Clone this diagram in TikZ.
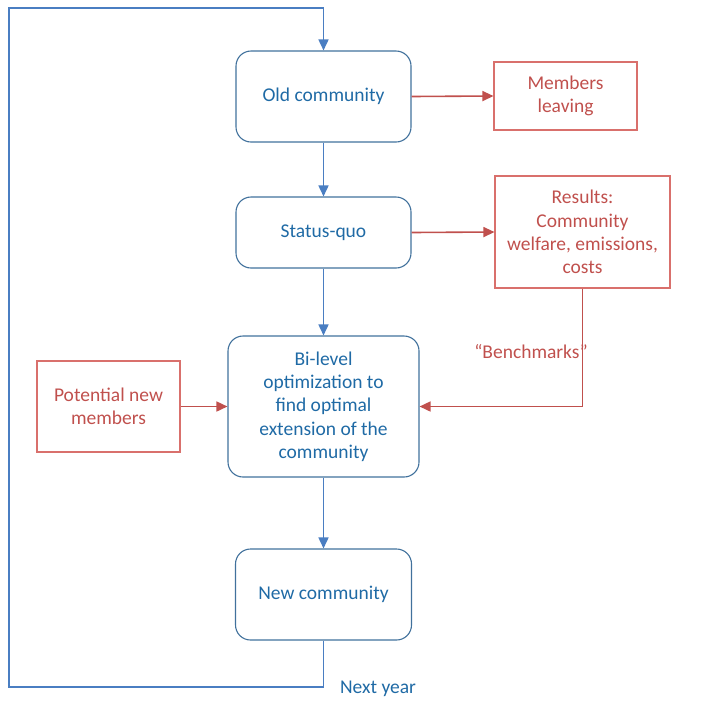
\documentclass[tikz,border=0pt]{standalone}
\usepackage{fontspec}
\setmainfont{Carlito}
\usetikzlibrary{arrows.meta}
\definecolor{bline}{HTML}{4A7EC2}
\definecolor{bbox}{HTML}{41719C}
\definecolor{btext}{HTML}{1F6AA5}
\definecolor{rline}{HTML}{C0504D}
\definecolor{rbox}{HTML}{D9706C}
\definecolor{rtext}{HTML}{C0504D}
\tikzset{
  x=1pt, y=-1pt,
  bluebox/.style={draw=bbox, line width=1.1pt, rounded corners=15pt, text=btext, align=center, inner sep=0pt, font=\fontsize{19.5}{23.3}\selectfont},
  redbox/.style={draw=rbox, line width=1.1pt, text=rtext, align=center, inner sep=0pt, font=\fontsize{19.5}{23.3}\selectfont},
  barrow/.style={draw=bline, line width=1.6pt, -{Triangle[length=11pt,width=10pt]}},
  rarrow/.style={draw=rline, line width=1.6pt, -{Triangle[length=11pt,width=10pt]}},
  lbl/.style={font=\fontsize{19.5}{23.3}\selectfont, inner sep=0pt}
}
\begin{document}
\begin{tikzpicture}
\useasboundingbox (0,0) rectangle (708,702);
% blue boxes
\node[bluebox, minimum width=175pt, minimum height=91pt] (old) at (323.5,96.5) {Old community};
\node[bluebox, minimum width=175pt, minimum height=71pt] (sq) at (323.5,232.5) {Status-quo};
\node[bluebox, minimum width=191pt, minimum height=141pt] (bi) at (323.5,406.5) {Bi-level\\optimization to\\find optimal\\extension of the\\community};
\node[bluebox, minimum width=176pt, minimum height=91pt] (new) at (323.5,594.5) {New community};
% red boxes
\node[redbox, minimum width=143pt, minimum height=68pt] (leave) at (565.5,96) {Members\\leaving};
\node[redbox, minimum width=175pt, minimum height=112pt] (res) at (582.5,232) {Results:\\Community\\welfare, emissions,\\costs};
\node[redbox, minimum width=143pt, minimum height=91pt] (pot) at (108.5,406.5) {Potential new\\members};
% labels
\node[lbl, text=rtext] (bench) at (531,352) {“Benchmarks”};
\node[lbl, text=btext] (ny) at (378,689) {Next year};
% coordinates
\coordinate (c1) at (323.5,687);
\coordinate (c2) at (9,687);
\coordinate (c3) at (9,8);
\coordinate (c4) at (323.5,8);
\coordinate (r1) at (582.5,406.5);
% blue arrows
\draw[barrow] (old) -- (sq);
\draw[barrow] (sq) -- (bi);
\draw[barrow] (bi) -- (new);
\draw[draw=bline, line width=1.6pt] (new.south) -- (c1) -- (c2) -- (c3) -- (c4);
\draw[barrow] (c4) -- (old.north);
% red arrows
\draw[rarrow] (old.east) -- (leave.west);
\draw[rarrow] (sq.east) -- (res.west);
\draw[rarrow] (pot.east) -- (bi.west);
\draw[draw=rline, line width=1.6pt] (res.south) -- (r1);
\draw[rarrow] (r1) -- (bi.east);
\end{tikzpicture}
\end{document}
